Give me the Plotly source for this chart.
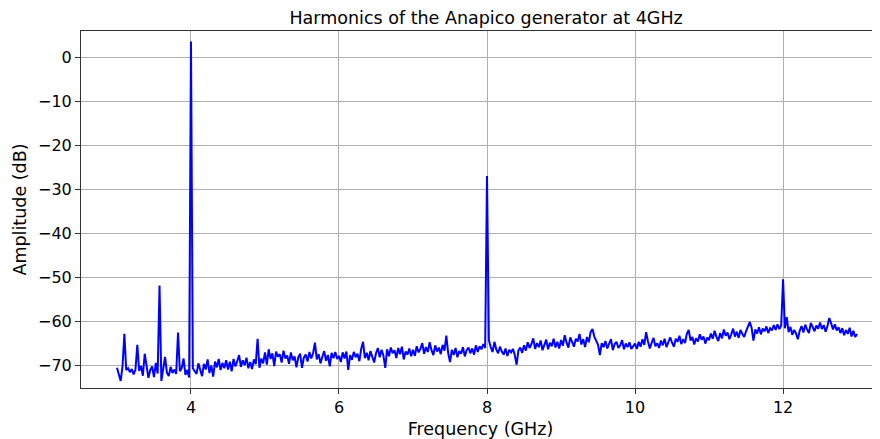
import numpy as np
import plotly.graph_objects as go

# Frequency grid (GHz): 3.0 .. 13.0 with 0.025 GHz spacing
f_start, f_stop, n_points = 3.0, 13.0, 401

# Amplitude (dB), one list per 0.5 GHz span
amp_3_0 = [-70.5, -71.8, -73.5, -70.2, -62.8, -71.0, -70.6, -71.5, -70.8, -72.0,
           -70.9, -65.3, -71.2, -70.1, -72.3, -67.3, -70.5, -72.8, -71.0, -70.2]
amp_3_5 = [-72.6, -69.4, -71.8, -51.8, -73.5, -70.4, -68.0, -71.6, -72.4, -70.3,
           -71.7, -70.9, -71.9, -62.5, -71.3, -70.6, -68.4, -72.1, -71.0, -72.7]
amp_4_0 = [3.7, -70.6, -71.3, -71.9, -69.5, -70.8, -72.4, -69.6, -70.9, -68.6,
           -71.7, -70.0, -72.5, -69.1, -70.4, -68.5, -71.0, -69.4, -70.6, -68.8]
amp_4_5 = [-70.9, -69.1, -71.3, -68.5, -70.2, -69.0, -67.6, -70.3, -68.8, -69.9,
           -68.2, -70.6, -69.2, -70.8, -68.6, -69.7, -63.9, -70.5, -68.4, -69.5]
amp_5_0 = [-67.0, -69.8, -66.3, -68.5, -67.2, -70.1, -66.8, -68.0, -67.4, -69.3,
           -66.6, -68.4, -67.7, -69.6, -67.0, -68.8, -67.9, -70.4, -68.1, -67.3]
amp_5_5 = [-70.5, -68.2, -67.5, -69.1, -66.9, -68.4, -67.2, -64.8, -68.6, -67.4,
           -69.5, -68.0, -66.7, -68.9, -67.6, -70.2, -67.1, -68.3, -66.9, -68.5]
amp_6_0 = [-67.8, -69.2, -67.0, -68.4, -66.8, -71.0, -67.6, -68.7, -66.9, -68.1,
           -67.3, -69.0, -66.2, -64.6, -68.3, -67.1, -68.8, -66.7, -67.9, -69.3]
amp_6_5 = [-67.2, -66.0, -68.1, -66.4, -67.7, -70.5, -66.3, -67.9, -65.9, -67.2,
           -66.5, -68.3, -66.0, -67.4, -65.7, -68.6, -66.8, -67.5, -66.1, -67.9]
amp_7_0 = [-66.4, -67.8, -65.6, -67.0, -66.2, -64.9, -67.3, -65.8, -66.9, -64.7,
           -66.5, -67.6, -65.4, -66.8, -65.9, -67.4, -65.3, -66.6, -63.2, -67.1]
amp_7_5 = [-69.2, -66.4, -67.6, -66.0, -68.1, -66.7, -67.3, -65.8, -67.9, -66.5,
           -65.9, -67.2, -66.1, -67.5, -65.4, -66.9, -65.6, -66.3, -65.1, -66.0]
amp_8_0 = [-26.9, -64.2, -65.8, -66.9, -64.6, -66.3, -67.2, -65.7, -66.8, -67.5,
           -66.1, -67.8, -66.4, -67.0, -66.2, -67.6, -69.8, -66.5, -65.9, -67.1]
amp_8_5 = [-65.4, -66.6, -64.7, -66.0, -65.1, -63.8, -66.2, -64.9, -65.8, -64.3,
           -66.5, -65.0, -64.1, -66.3, -64.8, -65.6, -63.9, -65.9, -64.6, -66.1]
amp_9_0 = [-64.2, -65.5, -63.1, -64.8, -65.9, -63.6, -64.9, -65.7, -63.9, -64.5,
           -62.8, -65.2, -64.0, -65.8, -63.5, -64.7, -62.4, -61.7, -63.4, -64.6]
amp_9_5 = [-65.3, -67.6, -64.9, -65.8, -64.4, -66.1, -65.2, -64.0, -66.5, -65.1,
           -64.6, -66.0, -65.4, -64.2, -66.3, -65.0, -65.8, -64.7, -66.2, -65.5]
amp_10_0 = [-65.0, -66.2, -64.6, -65.7, -64.0, -65.3, -62.4, -64.5, -66.1, -64.8,
            -63.7, -65.6, -64.9, -66.0, -64.3, -65.4, -63.9, -65.8, -64.5, -63.6]
amp_10_5 = [-64.8, -65.7, -63.9, -64.6, -63.2, -65.1, -64.0, -64.9, -62.8, -61.9,
            -64.3, -63.5, -65.2, -63.8, -64.5, -62.9, -64.1, -63.4, -65.0, -63.6]
amp_11_0 = [-64.2, -62.7, -63.9, -62.1, -63.5, -64.4, -62.6, -63.8, -61.8, -63.2,
            -62.5, -64.0, -62.9, -61.6, -63.4, -62.3, -63.7, -61.9, -62.8, -63.5]
amp_11_5 = [-62.2, -61.0, -60.1, -61.4, -64.3, -61.8, -62.7, -61.3, -62.9, -61.6,
            -62.2, -61.1, -62.6, -61.5, -62.0, -60.8, -61.9, -60.6, -61.7, -60.9]
amp_12_0 = [-50.4, -61.5, -59.0, -62.4, -61.2, -63.0, -61.9, -62.7, -64.0, -62.1,
            -61.0, -62.5, -60.7, -61.8, -62.6, -60.3, -61.5, -62.2, -60.9, -61.6]
amp_12_5 = [-60.2, -61.7, -60.8, -62.3, -61.0, -59.2, -60.4, -61.8, -60.6, -62.0,
            -61.3, -62.6, -61.5, -63.1, -61.9, -62.8, -61.4, -63.4, -62.1, -63.5,
            -62.8]

x_ticks = [4, 6, 8, 10, 12]
y_ticks = [0, -10, -20, -30, -40, -50, -60, -70]

amplitude = (amp_3_0 + amp_3_5 + amp_4_0 + amp_4_5 + amp_5_0 + amp_5_5 + amp_6_0 +
             amp_6_5 + amp_7_0 + amp_7_5 + amp_8_0 + amp_8_5 + amp_9_0 + amp_9_5 +
             amp_10_0 + amp_10_5 + amp_11_0 + amp_11_5 + amp_12_0 + amp_12_5)
freq = np.linspace(f_start, f_stop, n_points)

FONT = "DejaVu Sans"

fig = go.Figure()
fig.add_trace(go.Scatter(x=freq, y=amplitude, mode="lines",
                         line=dict(color="#0000ff", width=2), showlegend=False))

# The page body adds an 8 px offset, so the figure is 872x431 and margins are shifted.
fig.update_layout(
    width=872, height=431,
    margin=dict(l=73, r=0, t=23, b=51),
    paper_bgcolor="white", plot_bgcolor="white",
    font=dict(family=FONT, size=16, color="black"),
    title=dict(text="Harmonics of the Anapico generator at 4GHz",
               xref="paper", x=0.507, xanchor="center", y=0.977, yanchor="middle",
               font=dict(family=FONT, size=17.5, color="black")),
)
fig.update_xaxes(
    range=[2.514, 13.31], tickvals=x_ticks, ticktext=[str(t) for t in x_ticks],
    showgrid=True, gridcolor="#b0b0b0", gridwidth=1,
    showline=True, linecolor="#333333", linewidth=1, mirror=True,
    ticks="outside", ticklen=5, tickcolor="#333333",
    tickfont=dict(size=16),
    zeroline=False,
    title=dict(text="Frequency (GHz)", standoff=6, font=dict(size=17.5)),
)
fig.update_yaxes(
    range=[-75.1, 6.1], tickvals=y_ticks,
    showgrid=True, gridcolor="#b0b0b0", gridwidth=1,
    showline=True, linecolor="#333333", linewidth=1, mirror=False,
    ticks="outside", ticklen=5, tickcolor="#333333",
    tickfont=dict(size=16),
    zeroline=False,
    title=dict(text="Amplitude (dB)", standoff=6, font=dict(size=17.5)),
)

fig.write_html("out.html")
